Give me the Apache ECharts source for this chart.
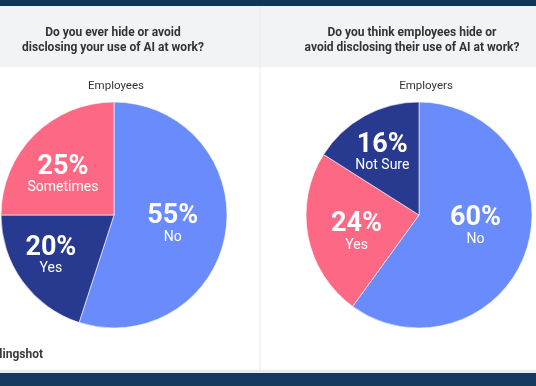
<!DOCTYPE html>
<html><head><meta charset="utf-8">
<script src="https://cdn.jsdelivr.net/npm/echarts@6/dist/echarts.min.js"></script>
<style>html,body{margin:0;padding:0;background:#fff}#c{width:536px;height:386px}</style>
</head><body><div id="c"></div>
<script>
// ---- data ----
const leftTitle = ['Do you ever hide or avoid', 'disclosing your use of AI at work?'];
const rightTitle = ['Do you think employees hide or', 'avoid disclosing their use of AI at work?'];
const leftGroup = 'Employees';
const rightGroup = 'Employers';
const leftCategories = ['No', 'Yes', 'Sometimes'];
const leftValues = [55, 20, 25];
const rightCategories = ['No', 'Yes', 'Not Sure'];
const rightValues = [60, 24, 16];
const brand = 'Slingshot';

// ---- styles ----
const BLUE = '#6a8bfc', NAVY = '#283a8f', PINK = '#fd6984';
const leftColors = [BLUE, NAVY, PINK];
const rightColors = [BLUE, PINK, NAVY];
const leftOffsets = [[0, 0], [-15, 6], [-9, 2]];
const rightOffsets = [[0, -7], [-4, 6], [-8, -10]];
const FONT = 'Roboto';

function buildData(cats, vals, colors, offsets) {
  return cats.map((c, i) => ({
    name: c, value: vals[i],
    itemStyle: { color: colors[i] },
    label: { offset: offsets[i] }
  }));
}

const labelCfg = {
  show: true, position: 'inside',
  formatter: '{p|{c}%}\n{n|{b}}',
  rich: {
    p: { fontFamily: FONT, fontSize: 27, fontWeight: 'bold', color: '#fff', lineHeight: 26, align: 'center' },
    n: { fontFamily: FONT, fontSize: 14, color: '#fff', lineHeight: 16, align: 'center' }
  }
};

function pie(center, cats, vals, colors, offsets) {
  return {
    type: 'pie', center: center, radius: [0, 113], startAngle: 90, clockwise: true,
    silent: true, animation: false,
    itemStyle: { borderColor: '#ffffff', borderWidth: 0.6 },
    label: labelCfg, labelLine: { show: false },
    data: buildData(cats, vals, colors, offsets)
  };
}

const chart = echarts.init(document.getElementById('c'), null, { renderer: 'canvas' });
chart.setOption({
  animation: false,
  backgroundColor: '#ffffff',
  graphic: [
    { type: 'rect', z: -10, shape: { x: 0, y: 6, width: 536, height: 61 }, style: { fill: '#f2f3f7' } },
    { type: 'rect', z: -10, shape: { x: 0, y: 0, width: 536, height: 6 }, style: { fill: '#0e3659' } },
    { type: 'rect', z: -10, shape: { x: 259.5, y: 6, width: 1.2, height: 364 }, style: { fill: '#eceef2' } },
    { type: 'rect', z: -10, shape: { x: 0, y: 370, width: 536, height: 3 }, style: { fill: '#e8ebf0' } },
    { type: 'rect', z: -10, shape: { x: 0, y: 373, width: 536, height: 13 }, style: { fill: '#16395d' } },
    { type: 'text', z: 5, x: 43, y: 349, style: { text: brand, fill: '#3a3a3a', font: 'bold 12px Roboto', textAlign: 'right' } }
  ],
  title: [
    { text: leftTitle.join('\n'), left: 108, top: 20, textAlign: 'center',
      textStyle: { fontFamily: FONT, fontSize: 12, fontWeight: 'bold', color: '#333', lineHeight: 15 } },
    { text: rightTitle.join('\n'), left: 407, top: 20, textAlign: 'center',
      textStyle: { fontFamily: FONT, fontSize: 12, fontWeight: 'bold', color: '#333', lineHeight: 15 } },
    { text: leftGroup, left: 111, top: 75, textAlign: 'center',
      textStyle: { fontFamily: FONT, fontSize: 11.5, fontWeight: 'normal', color: '#333' } },
    { text: rightGroup, left: 421, top: 75, textAlign: 'center',
      textStyle: { fontFamily: FONT, fontSize: 11.5, fontWeight: 'normal', color: '#333' } }
  ],
  series: [
    pie([114, 215], leftCategories, leftValues, leftColors, leftOffsets),
    pie([419, 215], rightCategories, rightValues, rightColors, rightOffsets)
  ]
});
</script>
</body></html>
